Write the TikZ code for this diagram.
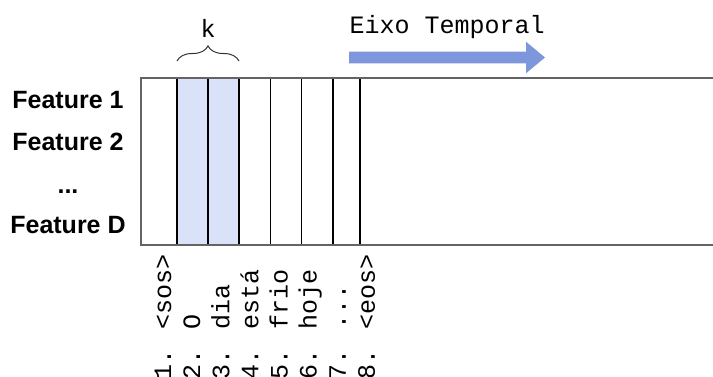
\documentclass[tikz,border=0pt]{standalone}
\usepackage{fontspec}
\setsansfont{Liberation Sans}
\newfontfamily\monofont{Liberation Mono}
\usetikzlibrary{decorations.pathreplacing}
\definecolor{janela}{RGB}{217,226,248}
\definecolor{seta}{RGB}{126,151,220}
\definecolor{borda}{RGB}{100,100,100}
\newcommand{\pontos}{...}
\begin{document}
\begin{tikzpicture}[x=1pt,y=1pt,
  feat/.style={font=\fontsize{25}{29}\selectfont\sffamily\bfseries, inner sep=0, anchor=base},
  mono/.style={font=\fontsize{25}{29}\selectfont\monofont, inner sep=0},
  token/.style={mono, rotate=90, anchor=base west}]
\useasboundingbox (0,0) rectangle (713,376);

% janela de tamanho k
\fill[janela] (177,131) rectangle (239,298);
\foreach \x in {177,208,239,270.5,301.5,333,360}
{
  \draw[line width=1.5] (\x,131) -- (\x,298);
}
\draw[line width=1.5, borda] (713,298) -- (141,298) -- (141,131) -- (713,131);

% features
\node[feat] (f1) at (68,267.7) {Feature 1};
\node[feat] (f2) at (68,226) {Feature 2};
\node[feat] (fdots) at (68,182.7) {...};
\node[feat] (fD) at (68,142.7) {Feature D};

% tokens
\foreach \tok [count=\i] in {<sos>,O,dia,está,frio,hoje,\pontos,<eos>}
{
  \pgfmathsetmacro{\bx}{171+29.14*(\i-1)}
  \node[token] (t\i) at (\bx,-4) {\i. \tok};
}

% chave sobre a janela
\coordinate (kl) at (177,315);
\coordinate (kr) at (239,315);
\draw[line width=1, black!80, decorate, decoration={brace, amplitude=15}] (kl) -- (kr);
\node[mono, anchor=base] (k) at (208,339) {k};

% eixo temporal
\fill[seta] (349,324.3)--(526,324.3)--(526,334.3)--(545,318.5)--(526,302.7)--(526,312.7)--(349,312.7)--cycle;
\node[mono, anchor=base west] (eixo) at (349.4,343) {Eixo Temporal};
\end{tikzpicture}
\end{document}
